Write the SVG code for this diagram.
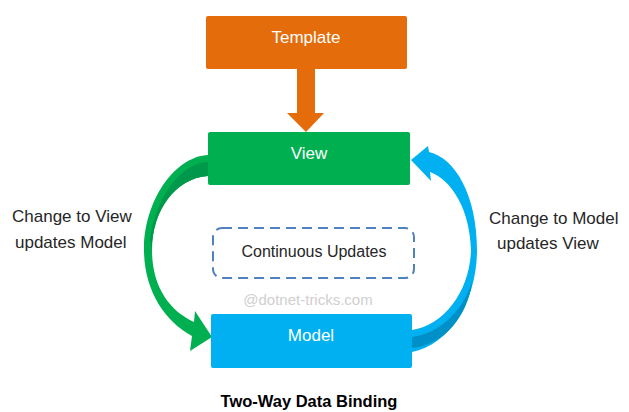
<svg xmlns="http://www.w3.org/2000/svg" width="629" height="412" viewBox="0 0 629 412">
<style>
text{font-family:"Liberation Sans",Arial,sans-serif}
.box-text{fill:#ffffff;font-size:17px;text-anchor:middle}
.label{fill:#262626;font-size:17px}
.dash{fill:none;stroke:#4F81BD;stroke-width:2;stroke-dasharray:10 6}
.title{fill:#000000;font-size:16.5px;font-weight:bold;text-anchor:middle}
.wm{fill:#CFCFCF;font-size:15px;text-anchor:middle}
</style>
<rect width="629" height="412" fill="#ffffff"/>
<g id="connectors">
  <path id="template-to-view" d="M297,69 H315 V113 H324 L306,132 L287,113 H297 Z" fill="#E46C0A"/>
  <g id="view-to-model">
    <path d="M208,155 C178,156 146,195 144,246 C143,288 163,320 192,336 L190,351 L212,337 L195,311 L194,322 C168,310 152,285 152,250 C152,210 176,178 208,176 Z" fill="#00B050"/>
    <path d="M208,162 C182,163 156,195 150,240 L152,250 C152,210 176,178 208,176 Z" fill="#00984A"/>
  </g>
  <g id="model-to-view">
    <path d="M412,330 C445,325 470,290 471,250 C470,210 452,180 430,172 L431,181 L411,160 L428,146 L429,152 C455,158 477,195 477,250 C477,300 450,345 412,352 Z" fill="#00B0F0"/>
    <path d="M412,337 C440,333 462,312 472,282 C468,315 445,345 412,348 Z" fill="#0090C8"/>
  </g>
</g>
<g id="node-template">
  <rect x="206" y="16" width="201" height="53" rx="2" fill="#E46C0A"/>
  <text class="box-text" x="306" y="43">Template</text>
</g>
<g id="node-view">
  <rect x="208" y="132" width="202" height="53" rx="2" fill="#00B050"/>
  <text class="box-text" x="309" y="159">View</text>
</g>
<g id="node-updates">
  <rect class="dash" x="213" y="228" width="201" height="50" rx="9"/>
  <text x="314" y="257" fill="#262626" font-size="16" text-anchor="middle">Continuous Updates</text>
</g>
<text class="wm" x="308" y="305">@dotnet-tricks.com</text>
<g id="node-model">
  <rect x="211" y="314" width="201" height="54" rx="2" fill="#00B0F0"/>
  <text class="box-text" x="311" y="341">Model</text>
</g>
<g id="label-left">
  <text class="label" x="12" y="222">Change to View</text>
  <text class="label" x="15" y="248">updates Model</text>
</g>
<g id="label-right">
  <text class="label" x="489" y="224">Change to Model</text>
  <text class="label" x="497" y="249">updates View</text>
</g>
<text class="title" x="309" y="407">Two-Way Data Binding</text>
</svg>
